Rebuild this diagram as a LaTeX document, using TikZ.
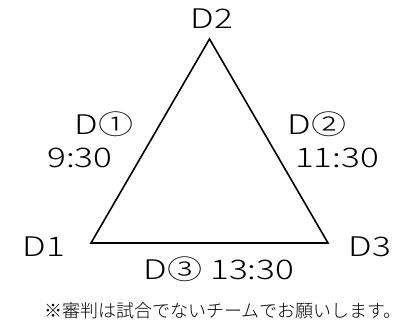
\documentclass[tikz,border=0pt]{standalone}
\usepackage{fontspec}
\setmainfont{Noto Sans CJK JP}[UprightFont=* Light]
\usepackage{tikz}

\begin{document}
\begin{tikzpicture}[x=1pt,y=1pt,
  lbl/.style={text=drawColor,anchor=center,inner sep=0pt,outer sep=0pt,xscale=1.3,font=\fontsize{27}{27}\selectfont},
  note/.style={text=drawColor,anchor=center,inner sep=0pt,outer sep=0pt,font=\fontsize{18}{18}\selectfont}]
\definecolor{fillColor}{RGB}{255,255,255}
\definecolor{drawColor}{RGB}{0,0,0}
\path[use as bounding box,fill=fillColor] (0,0) rectangle (407,327);

\coordinate (top) at (209.50,288.00);
\coordinate (left) at ( 91.00, 84.00);
\coordinate (right) at (328.00, 84.00);

\path[draw=drawColor,line width= 1.6pt,line join=miter] (top) --
	(right) --
	(left) -- cycle;

\node[lbl] (d2) at (212.00,308.00) {D2};
\node[lbl] (d1) at ( 44.00, 80.00) {D1};
\node[lbl] (d3) at (370.00, 80.00) {D3};

\node[lbl] (m1) at (104.00,203.00) {D①};
\node[lbl] (t1) at ( 80.00,169.00) {9:30};
\node[lbl] (m2) at (317.00,203.00) {D②};
\node[lbl] (t2) at (337.00,169.00) {11:30};
\node[lbl] (m3) at (219.00, 58.00) {D③ 13:30};

\node[note] (remark) at (223.00, 16.00) {※審判は試合でないチームでお願いします。};
\end{tikzpicture}
\end{document}
